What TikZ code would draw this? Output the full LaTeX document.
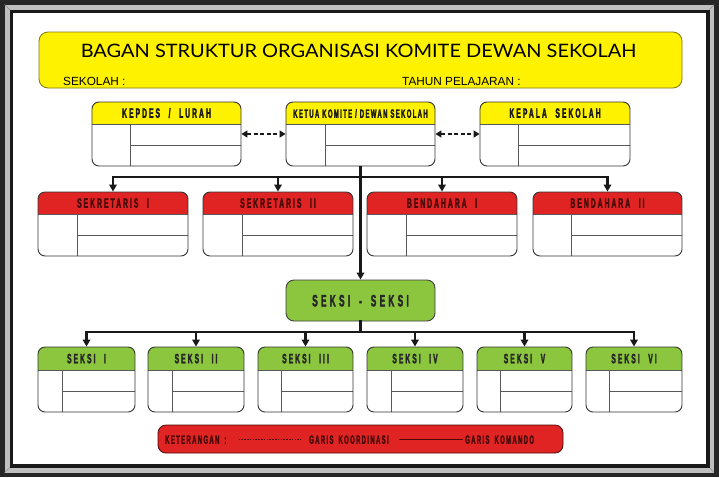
\documentclass[tikz,border=0pt]{standalone}
\usepackage{fontspec}
\setmainfont{Liberation Sans}
\newfontfamily\titlefont[FakeStretch=1.08]{Lato}
\newfontfamily\hsp[FakeStretch=0.5,LetterSpace=15,WordSpace=2.2,FakeBold=2]{Liberation Sans Bold}
\newfontfamily\hsmall[FakeStretch=0.5,LetterSpace=11,FakeBold=2]{Liberation Sans Bold}
\newfontfamily\hbig[FakeStretch=0.5,LetterSpace=20,WordSpace=1.6,FakeBold=2]{Liberation Sans Bold}
\usetikzlibrary{arrows.meta,fit,calc}
\definecolor{ylw}{HTML}{FFF200}
\definecolor{rd}{HTML}{E02424}
\definecolor{grn}{HTML}{8CC63F}
\definecolor{maroon}{HTML}{4A0A0A}
\definecolor{olivebd}{HTML}{7A7A10}
\tikzset{
  boxline/.style={draw=black!80, line width=0.9pt},
  innerline/.style={draw=black!65, line width=0.7pt},
  hdrtext/.style={font=\hsp\fontsize{13.5}{14}\selectfont, inner sep=0pt, text height=9.5pt, text depth=0pt},
  yhead/.style={fill=ylw},
  yheadtxt/.style={hdrtext, text=black!90},
  rhead/.style={fill=rd},
  rheadtxt/.style={hdrtext, text=maroon},
  ghead/.style={fill=grn},
  gheadtxt/.style={hdrtext, text=black!85},
  cmd/.style={line width=2.2pt, draw=black!90, -{Triangle[width=7.5pt,length=7pt]}},
  cmdline/.style={line width=2.2pt, draw=black!90, line cap=rect},
  koord/.style={line width=2pt, draw=black!90, dash pattern=on 4pt off 2.6pt, {Triangle[width=7pt,length=6pt]}-{Triangle[width=7pt,length=6pt]}},
  legtext/.style={font=\hsmall\fontsize{12}{13}\selectfont, text=maroon, inner sep=0pt, anchor=west, text height=8.5pt, text depth=0pt},
  plaintext/.style={font=\fontsize{11.8}{13}\selectfont, anchor=west, inner sep=0pt, text height=8.5pt, text depth=0pt},
}
% name, x1, y1, x2, y2, header-bottom y, divider x, header style, label
\newcommand\orgbox[9]{%
  \coordinate (#1-nw) at (#2,#3);
  \coordinate (#1-se) at (#4,#5);
  \begin{scope}
    \clip[rounded corners=7pt] (#2,#3) rectangle (#4,#5);
    \fill[white] (#2,#3) rectangle (#4,#5);
    \fill[#8] (#2,#3) rectangle (#4,#6);
    \draw[innerline] (#2,#6) -- (#4,#6);
    \draw[innerline] (#7,#6) -- (#7,#5);
    \draw[innerline] (#7,{(#6+#5)/2}) -- (#4,{(#6+#5)/2});
  \end{scope}
  \node[fit=(#1-nw)(#1-se), inner sep=0pt, boxline, rounded corners=7pt] (#1) {};
  \node[#8txt] (#1-t) at ({(#2+#4)/2},{(#3+#6)/2}) {#9};
}
\begin{document}
\begin{tikzpicture}[x=1pt,y=-1pt]
\useasboundingbox (0,0) rectangle (719,477);
% frame
\fill[black!85] (0,0) rectangle (719,477);
\fill[black!25] (4.5,4.5) rectangle (714,472.5);
\draw[black!45, line width=0.5pt] (4.5,4.5) -- (10,10) (714,4.5) -- (709.5,10) (4.5,472.5) -- (10,467.5) (714,472.5) -- (709.5,467.5);
\fill[black!90] (9.5,9.5) rectangle (709.5,467.5);
\fill[white] (13,13) rectangle (706,464);
% title
\node[draw=olivebd, fill=ylw, line width=0.8pt, rounded corners=9pt, minimum width=643pt, minimum height=56pt, inner sep=0pt] (title) at (360.5,60) {};
\node[font=\titlefont\fontsize{18.5}{20}\selectfont, inner sep=0pt, text height=13.3pt, text depth=0pt] (titletext) at (358.5,50.5) {BAGAN STRUKTUR ORGANISASI KOMITE DEWAN SEKOLAH};
\node[plaintext] (sekolah) at (63,81) {SEKOLAH :};
\node[plaintext] (tahun) at (402,81) {TAHUN PELAJARAN :};
% top row
\orgbox{kepdes}{92}{102}{241}{166}{124}{130}{yhead}{KEPDES / LURAH}
\orgbox{ketua}{286}{102}{435}{166}{124}{325}{yhead}{{\hsmall\fontsize{12}{13}\selectfont KETUA KOMITE / DEWAN SEKOLAH}}
\orgbox{kepala}{480}{102}{630}{166}{124}{518}{yhead}{KEPALA SEKOLAH}
% second row
\orgbox{sek1}{38}{192}{188}{256}{214}{77}{rhead}{SEKRETARIS I}
\orgbox{sek2}{203}{192}{353}{256}{214}{242}{rhead}{SEKRETARIS II}
\orgbox{ben1}{367}{192}{517}{256}{214}{406}{rhead}{BENDAHARA I}
\orgbox{ben2}{533}{192}{682}{256}{214}{571}{rhead}{BENDAHARA II}
% seksi-seksi
\node[fill=grn, draw=black!75, line width=0.9pt, rounded corners=8pt, minimum width=149pt, minimum height=41pt, inner sep=0pt,
      font=\hbig\fontsize{16.5}{17}\selectfont, text=black!85, text height=11.8pt, text depth=0pt] (seksi) at (360.5,300.5) {SEKSI - SEKSI};
% third row
\orgbox{s1}{38}{347}{135}{412}{370}{62}{ghead}{SEKSI I}
\orgbox{s2}{148}{347}{244}{412}{370}{172}{ghead}{SEKSI II}
\orgbox{s3}{258}{347}{353}{412}{370}{281}{ghead}{SEKSI III}
\orgbox{s4}{367}{347}{463}{412}{370}{391}{ghead}{SEKSI IV}
\orgbox{s5}{477}{347}{572}{412}{370}{500}{ghead}{SEKSI V}
\orgbox{s6}{586}{347}{682}{412}{370}{609}{ghead}{SEKSI VI}
% connectors
\coordinate (bar1) at (0,177);
\coordinate (bar2) at (0,332);
\coordinate (kline) at (0,134);
\draw[koord] (kepdes.east |- kline) -- (ketua.west |- kline);
\draw[koord] (ketua.east |- kline) -- (kepala.west |- kline);
\draw[cmdline] (sek1.north |- bar1) -- (ben2.north |- bar1);
\foreach \n in {sek1,sek2,ben1,ben2} \draw[cmd] (\n.north |- bar1) -- (\n.north);
\draw[cmd] (ketua.south) -- (seksi.north);
\draw[cmdline] (seksi.south) -- (seksi.south |- bar2);
\draw[cmdline] (s1.north |- bar2) -- (s6.north |- bar2);
\foreach \n in {s1,s2,s3,s4,s5,s6} \draw[cmd] (\n.north |- bar2) -- (\n.north);
% legend
\node[fill=rd, draw=maroon, line width=0.8pt, rounded corners=8pt, minimum width=405pt, minimum height=28pt, inner sep=0pt] (legend) at (360.5,439) {};
\node[legtext] (ket) at (165,439.5) {KETERANGAN\, :};
\node[legtext] (gkoor) at (309,439.5) {GARIS\, KOORDINASI};
\node[legtext] (gkom) at (465,439.5) {GARIS\, KOMANDO};
\draw[maroon, line width=0.6pt, dash pattern=on 1.6pt off 1.2pt, shorten <=12pt, shorten >=8pt] (ket.east) -- (gkoor.west);
\draw[maroon, line width=0.8pt, shorten <=10pt, shorten >=2pt] (gkoor.east) -- (gkom.west);
\end{tikzpicture}
\end{document}
